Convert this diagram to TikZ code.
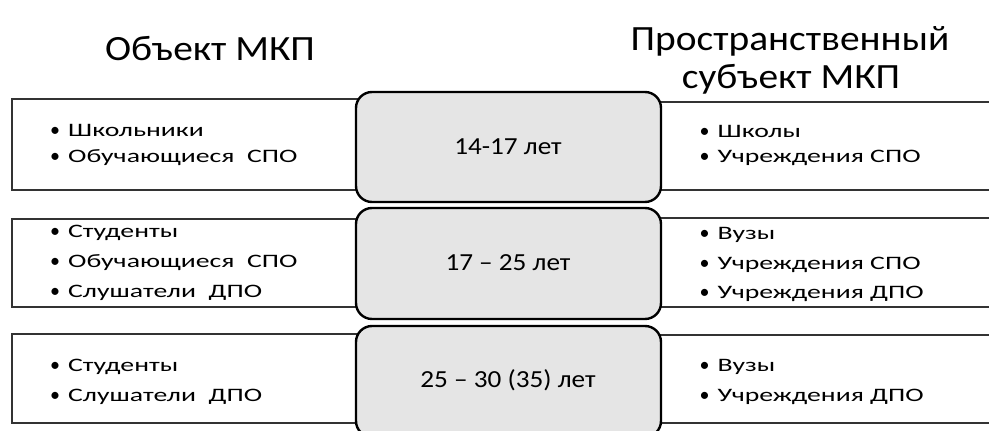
\documentclass[tikz,border=0pt]{standalone}
\usepackage{fontspec}
\setmainfont{Carlito}
\newfontfamily\headfont[FakeStretch=1.11]{Carlito}
\newfontfamily\itemfont[FakeStretch=1.46]{Carlito}
\begin{document}
\begin{tikzpicture}[x=1pt,y=-1pt,
  frame/.style={draw=black!80, line width=1.3pt, fill=white, inner sep=0pt},
  agebox/.style={draw=black, line width=2.4pt, fill=black!10, rounded corners=16pt,
    minimum width=305pt, minimum height=111pt, inner sep=0pt},
  agetext/.style={anchor=base, inner sep=0pt, font=\headfont\fontsize{24.5}{28}\selectfont},
  entry/.style={anchor=base west, inner sep=0pt, font=\itemfont\fontsize{19}{24}\selectfont},
  heading/.style={anchor=base, inner sep=0pt, font=\headfont\fontsize{35.5}{38}\selectfont}]
\clip (0,0) rectangle (989,431);
% round bullet in the unstretched face, then the entry text
\newcommand{\itm}[1]{\makebox[19.5pt][l]{\hspace{1.5pt}{\normalfont\fontsize{20}{24}\selectfont •}}#1}

% column headings
\node[heading] (hobj) at (210,60) {Объект МКП};
\node[heading] (hsubjA) at (790,50) {Пространственный};
\node[heading] (hsubjB) at (791,88) {субъект МКП};

% left frames (objects)
\node[frame, minimum width=358pt, minimum height=91pt] (L1) at (191,144.5) {};
\node[frame, minimum width=358pt, minimum height=88pt] (L2) at (191,263) {};
\node[frame, minimum width=358pt, minimum height=89pt] (L3) at (191,378.5) {};

% right frames (subjects), open past the right edge
\node[frame, minimum width=350pt, minimum height=88pt] (R1) at (825,146) {};
\node[frame, minimum width=350pt, minimum height=89pt] (R2) at (825,262.5) {};
\node[frame, minimum width=350pt, minimum height=88pt] (R3) at (825,379) {};

% lists of objects
\node[entry] (L1a) at (48.5,136.5) {\itm{Школьники}};
\node[entry] (L1b) at (48.5,162) {\itm{Обучающиеся\ \ СПО}};
\node[entry] (L2a) at (48.5,237) {\itm{Студенты}};
\node[entry] (L2b) at (48.5,267) {\itm{Обучающиеся\ \ СПО}};
\node[entry] (L2c) at (48.5,297) {\itm{Слушатели\ \ ДПО}};
\node[entry] (L3a) at (48.5,371) {\itm{Студенты}};
\node[entry] (L3b) at (48.5,401) {\itm{Слушатели\ \ ДПО}};

% lists of subjects
\node[entry] (R1a) at (698,137.5) {\itm{Школы}};
\node[entry] (R1b) at (698,162.5) {\itm{Учреждения СПО}};
\node[entry] (R2a) at (698,239) {\itm{Вузы}};
\node[entry] (R2b) at (698,269) {\itm{Учреждения СПО}};
\node[entry] (R2c) at (698,298) {\itm{Учреждения ДПО}};
\node[entry] (R3a) at (698,371) {\itm{Вузы}};
\node[entry] (R3b) at (698,401) {\itm{Учреждения ДПО}};

% age groups
\node[agebox, minimum height=110pt] (A1) at (508.5,147) {};
\node[agebox] (A2) at (508.5,263.5) {};
\node[agebox] (A3) at (508.5,381.5) {};
\node[agetext] (A1t) at (508,154) {14-17 лет};
\node[agetext] (A2t) at (508,270.5) {17 – 25 лет};
\node[agetext] (A3t) at (508,387) {25 – 30 (35) лет};
\end{tikzpicture}
\end{document}
